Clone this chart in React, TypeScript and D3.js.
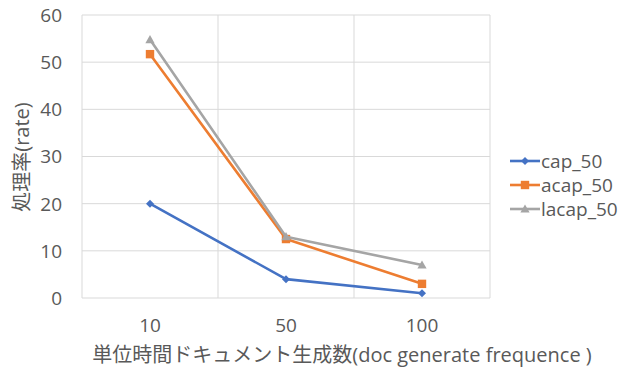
import React from "react";
import * as d3 from "d3";

const categories = ["10", "50", "100"];
const seriesNames = ["cap_50", "acap_50", "lacap_50"];
const capValues = [20, 4, 1];
const acapValues = [51.7, 12.5, 3];
const lacapValues = [54.8, 13, 7];
const yTicks = [0, 10, 20, 30, 40, 50, 60];
const colors = ["#4472C4", "#ED7D31", "#A5A5A5"];
const markers = ["diamond", "square", "triangle"];

const W = 619;
const H = 376;
const plot = { left: 82, right: 490, top: 15, bottom: 298 };
const FONT = "'Open Sans', 'Noto Sans CJK JP', sans-serif";
const TEXT = "#595959";

function Marker({ kind, x, y, color }: { kind: string; x: number; y: number; color: string }) {
  if (kind === "diamond") {
    const s = 4;
    return <path d={`M${x},${y - s}L${x + s},${y}L${x},${y + s}L${x - s},${y}Z`} fill={color} />;
  }
  if (kind === "square") {
    const s = 4.2;
    return <rect x={x - s} y={y - s} width={2 * s} height={2 * s} fill={color} />;
  }
  const s = 4.6;
  return <path d={`M${x},${y - s}L${x + s},${y + s - 1}L${x - s},${y + s - 1}Z`} fill={color} />;
}

export default function App() {
  const series = [capValues, acapValues, lacapValues];
  const x = d3.scaleBand<string>().domain(categories).range([plot.left, plot.right]);
  const y = d3.scaleLinear().domain([0, 60]).range([plot.bottom, plot.top]);
  const cx = (c: string) => (x(c) ?? 0) + x.bandwidth() / 2;
  const line = d3
    .line<number>()
    .x((_, i) => cx(categories[i]))
    .y((d) => y(d));

  return (
    <svg
      width={W}
      height={H}
      style={{ position: "absolute", left: 0, top: 0, background: "#fff" }}
      fontFamily={FONT}
    >
      {/* horizontal gridlines */}
      {yTicks.map((t) => (
        <line key={t} x1={plot.left} x2={plot.right} y1={y(t)} y2={y(t)} stroke="#d9d9d9" strokeWidth={1} />
      ))}
      {/* category separators and plot borders */}
      {[plot.left, ...categories.map((c) => (x(c) ?? 0) + x.bandwidth())].map((v, i) => (
        <line key={i} x1={v} x2={v} y1={plot.top} y2={plot.bottom} stroke="#d9d9d9" strokeWidth={1} />
      ))}
      {/* y tick labels */}
      {yTicks.map((t) => (
        <text key={t} x={62} y={y(t)} dy="0.36em" textAnchor="end" fontSize={19} fill={TEXT}>
          {t}
        </text>
      ))}
      {/* x tick labels */}
      {categories.map((c) => (
        <text key={c} x={cx(c)} y={332} textAnchor="middle" fontSize={19} fill={TEXT}>
          {c}
        </text>
      ))}
      {/* axis titles */}
      <text x={342} y={362} textAnchor="middle" fontSize={20} fill={TEXT}>
        単位時間ドキュメント生成数(doc generate frequence )
      </text>
      <text
        transform={`translate(29,157) rotate(-90)`}
        textAnchor="middle"
        fontSize={20}
        fill={TEXT}
      >
        処理率(rate)
      </text>
      {/* series */}
      {series.map((vals, si) => (
        <g key={si}>
          <path d={line(vals) ?? ""} fill="none" stroke={colors[si]} strokeWidth={2.6} strokeLinejoin="round" />
          {vals.map((v, i) => (
            <Marker key={i} kind={markers[si]} x={cx(categories[i])} y={y(v)} color={colors[si]} />
          ))}
        </g>
      ))}
      {/* legend */}
      {seriesNames.map((n, i) => {
        const ly = 161 + i * 24;
        return (
          <g key={n}>
            <line x1={510} x2={540} y1={ly} y2={ly} stroke={colors[i]} strokeWidth={2.6} />
            <Marker kind={markers[i]} x={525} y={ly} color={colors[i]} />
            <text x={541} y={ly} dy="0.36em" fontSize={19} fill={TEXT}>
              {n}
            </text>
          </g>
        );
      })}
    </svg>
  );
}
